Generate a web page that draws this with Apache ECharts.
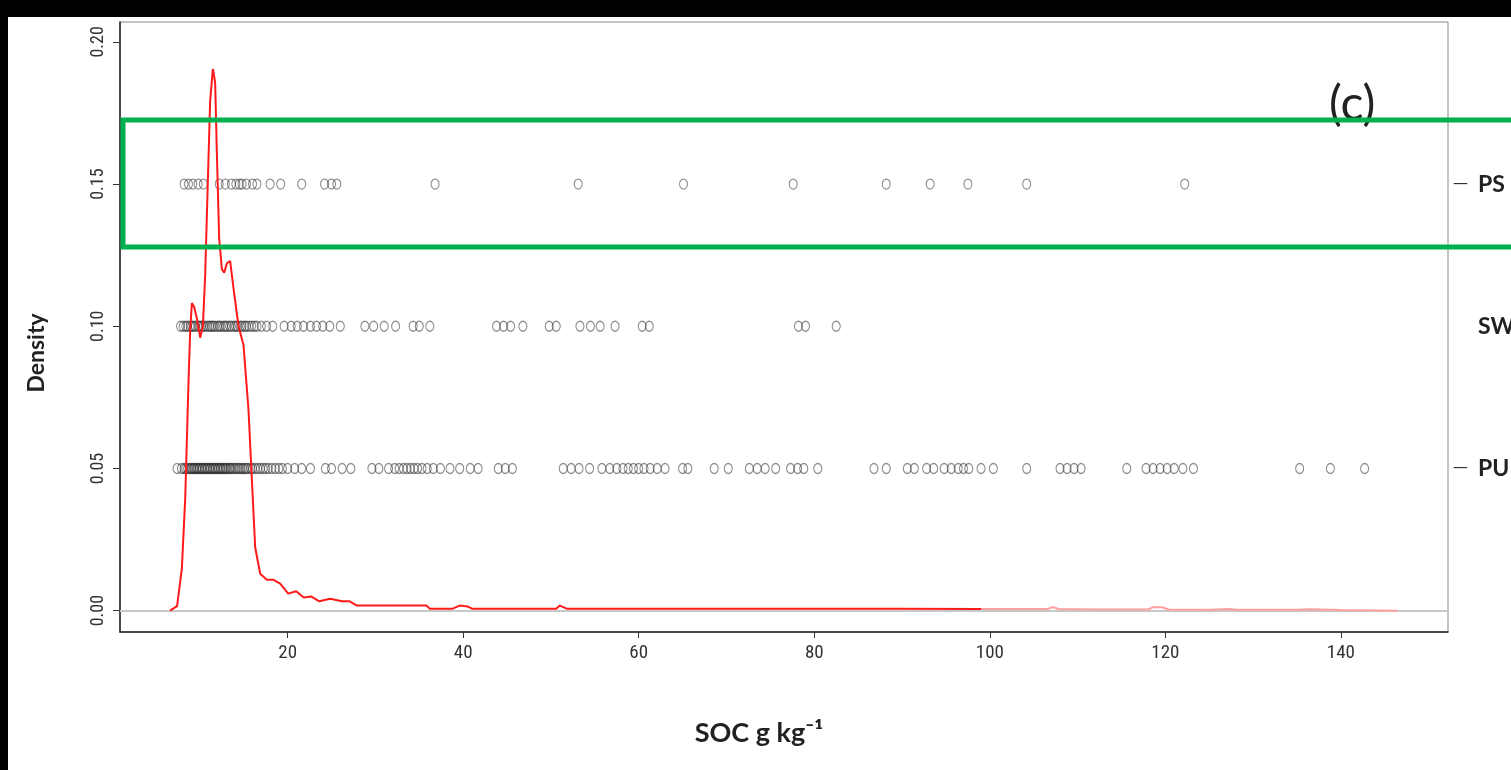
<!DOCTYPE html>
<html><head><meta charset="utf-8">
<script src="https://cdn.jsdelivr.net/npm/echarts@6/dist/echarts.min.js"></script>
<style>
html,body{margin:0;padding:0;background:#000;width:1511px;height:770px;overflow:hidden}
#page{position:absolute;left:8px;top:17px;width:1503px;height:753px;background:#fff}
#chart{position:absolute;left:0;top:0;width:1511px;height:770px}
</style></head><body>
<div id="page"></div><div id="chart"></div>
<script>
// Kernel density of SOC (x: g/kg, y: density)
const densX = [6.6, 7.4, 7.95, 8.33, 8.7, 8.9, 9.09, 9.35, 9.66, 10.04, 10.34, 10.6, 10.87, 11.17, 11.48, 11.74, 11.94, 12.2, 12.51, 12.77, 13.08, 13.45, 13.83, 14.4, 14.97, 15.54, 15.92, 16.3, 16.87, 17.63, 18.35, 19.15, 20.06, 20.97, 21.84, 22.68, 23.6, 24.84, 26.2, 27.06, 27.9, 35.8, 36.2, 38.8, 39.6, 40.5, 41.0, 50.6, 51.0, 51.8, 60, 70, 80, 90, 99, 106.6, 107.2, 107.8, 112, 118.0, 118.6, 119.6, 120.4, 125, 127.4, 128, 135, 136.5, 140, 146.5];
const densY = [0, 0.0016, 0.015, 0.0395, 0.0799, 0.0987, 0.1082, 0.1068, 0.1027, 0.0960, 0.1001, 0.1175, 0.1469, 0.1791, 0.1905, 0.1858, 0.1603, 0.1308, 0.1201, 0.1188, 0.1222, 0.1229, 0.1134, 0.1001, 0.0934, 0.0706, 0.0464, 0.0223, 0.0130, 0.0109, 0.0109, 0.0095, 0.0060, 0.0068, 0.0046, 0.0050, 0.0033, 0.0042, 0.0033, 0.0033, 0.0018, 0.0018, 0.0007, 0.0007, 0.0018, 0.0015, 0.0007, 0.0007, 0.0018, 0.0007, 0.0007, 0.0007, 0.0007, 0.0007, 0.0006, 0.0006, 0.0013, 0.0006, 0.0004, 0.0004, 0.0012, 0.0012, 0.0004, 0.0003, 0.0006, 0.0003, 0.0003, 0.0005, 0.0002, 0];
const paleFrom = 99; // the curve is drawn faint beyond this SOC value

// Observations per group (stripchart rows)
const psValues = [8.2, 8.7, 9.2, 9.8, 10.4, 12.2, 12.9, 13.6, 14.1, 14.5, 14.8, 15.3, 16.0, 16.5, 18.0, 19.2, 21.6, 24.2, 25.0, 25.6, 36.8, 53.1, 65.1, 77.6, 88.2, 93.2, 97.5, 104.2, 122.2];
const swValues = [7.8, 8.1, 8.4, 8.6, 8.9, 9.1, 9.3, 9.5, 9.8, 10.0, 10.2, 10.4, 10.6, 10.9, 11.1, 11.3, 11.5, 11.7, 12.0, 12.2, 12.4, 12.7, 12.9, 13.1, 13.4, 13.6, 13.9, 14.1, 14.3, 14.6, 14.8, 15.1, 15.3, 15.6, 15.9, 16.2, 16.5, 17.0, 17.6, 18.3, 19.6, 20.4, 21.1, 21.8, 22.6, 23.3, 24.0, 24.8, 26.0, 28.8, 29.8, 31.0, 32.3, 34.3, 35.0, 36.2, 43.8, 44.6, 45.4, 46.8, 49.8, 50.6, 53.3, 54.5, 55.6, 57.3, 60.4, 61.2, 78.2, 79.0, 82.5];
const puValues = [7.4, 7.9, 8.2, 8.4, 8.6, 8.8, 9.0, 9.1, 9.3, 9.4, 9.6, 9.7, 9.9, 10.0, 10.2, 10.3, 10.5, 10.6, 10.8, 10.9, 11.1, 11.2, 11.4, 11.5, 11.7, 11.8, 12.0, 12.1, 12.3, 12.4, 12.6, 12.7, 12.9, 13.0, 13.2, 13.4, 13.5, 13.7, 13.9, 14.1, 14.3, 14.5, 14.7, 14.9, 15.1, 15.3, 15.5, 15.8, 16.0, 16.3, 16.6, 16.9, 17.2, 17.5, 17.8, 18.2, 18.6, 19.0, 19.4, 20.0, 20.8, 21.6, 22.6, 24.3, 25.0, 26.2, 27.2, 29.6, 30.4, 31.5, 32.2, 32.7, 33.2, 33.6, 34.0, 34.4, 34.8, 35.3, 35.9, 36.6, 37.4, 38.5, 39.6, 40.8, 41.7, 44.0, 44.8, 45.6, 51.4, 52.3, 53.2, 54.4, 55.8, 56.7, 57.5, 58.2, 58.8, 59.4, 60.0, 60.6, 61.3, 62.1, 63.0, 65.0, 65.6, 68.6, 70.2, 72.6, 73.5, 74.4, 75.6, 77.3, 78.1, 78.8, 80.4, 86.8, 88.2, 90.6, 91.4, 92.8, 93.6, 94.8, 95.6, 96.4, 97.0, 97.6, 99.0, 100.4, 104.2, 108.0, 108.8, 109.6, 110.4, 115.6, 117.8, 118.6, 119.4, 120.2, 121.0, 122.0, 123.2, 135.3, 138.8, 142.7];

const rowNames = ['PU', 'SW', 'PS'];
const rowLevels = [0.05, 0.10, 0.15];
const xTicks = [20, 40, 60, 80, 100, 120, 140];
const yTicks = [0, 0.05, 0.10, 0.15, 0.20];
const xRange = [0.9, 152.2];
const yRange = [-0.0075, 0.207];
const boxRange = [0.1279, 0.1725];

const chart = echarts.init(document.getElementById('chart'), null, {renderer: 'canvas'});
const tickFont = "'Liberation Sans Narrow', 'Roboto Condensed', 'Liberation Sans', Arial, sans-serif";
const boldFont = "Lato, 'Open Sans', 'Noto Sans', sans-serif";

const densPairs = densX.map((x, i) => [x, densY[i]]);
const densMain = densPairs.filter(p => p[0] <= paleFrom);
const densTail = densPairs.filter(p => p[0] >= paleFrom);
const toRow = (vals, level) => vals.map(v => [v, level]);
const pointStyle = {color: 'rgba(0,0,0,0)', borderColor: 'rgba(20,20,20,0.6)', borderWidth: 1.2};

chart.setOption({
  backgroundColor: 'transparent',
  animation: false,
  title: {
    text: '(c)', left: 1324, top: 76,
    textStyle: {fontFamily: boldFont, fontSize: 48, fontWeight: 'normal', color: '#222'}
  },
  grid: {left: 120, right: 63, top: 22, bottom: 138, outerBoundsMode: 'none', containLabel: false,
    show: true, borderColor: '#8a8a8a', borderWidth: 1, backgroundColor: 'transparent'},
  xAxis: {
    type: 'value', min: xRange[0], max: xRange[1],
    name: 'SOC g kg\u207B\u00B9', nameLocation: 'middle', nameGap: 88,
    nameTextStyle: {fontFamily: boldFont, fontSize: 27, fontWeight: 'bold', color: '#222', padding: [0, 50, 0, 0]},
    axisLine: {show: true, onZero: false, lineStyle: {color: '#222', width: 1.5}},
    axisTick: {show: true, length: 6, customValues: xTicks, lineStyle: {color: '#333'}},
    axisLabel: {customValues: xTicks, margin: 12, fontFamily: tickFont, fontSize: 19, color: '#333'},
    splitLine: {show: false}
  },
  yAxis: [{
    type: 'value', min: yRange[0], max: yRange[1], position: 'left',
    name: 'Density', nameLocation: 'middle', nameGap: 72, nameRotate: 90,
    nameTextStyle: {fontFamily: boldFont, fontSize: 23, fontWeight: 'bold', color: '#222', padding: [0, 52, 0, 0]},
    axisLine: {show: true, onZero: false, lineStyle: {color: '#222', width: 1.5}},
    axisTick: {show: true, length: 7, customValues: yTicks, lineStyle: {color: '#333'}},
    axisLabel: {customValues: yTicks, rotate: 90, margin: 13, fontFamily: tickFont, fontSize: 18, color: '#333',
      formatter: v => v.toFixed(2)},
    splitLine: {show: false}
  }, {
    type: 'value', min: yRange[0], max: yRange[1], position: 'right',
    axisLine: {show: false}, axisTick: {show: false}, splitLine: {show: false},
    axisLabel: {
      customValues: rowLevels, margin: 5, hideOverlap: false,
      formatter: v => {
        const i = rowLevels.findIndex(l => Math.abs(l - v) < 1e-6);
        const name = i >= 0 ? rowNames[i] : '';
        return (name === 'SW' ? '{h|\u2014}' : '{d|\u2014}') + '{b|' + name + '}';
      },
      rich: {
        d: {fontFamily: "'DejaVu Sans', sans-serif", fontSize: 15, color: '#333', padding: [0, 10, 0, 0]},
        h: {fontFamily: "'DejaVu Sans', sans-serif", fontSize: 15, color: 'rgba(0,0,0,0)', padding: [0, 10, 0, 0]},
        b: {fontFamily: boldFont, fontSize: 23, fontWeight: 'bold', color: '#222'}
      }
    }
  }],
  series: [{
    name: 'density', type: 'line', data: densMain,
    showSymbol: false, symbol: 'none', smooth: false, z: 3,
    lineStyle: {width: 2, color: '#ff1a1a'},
    markLine: {
      silent: true, symbol: 'none', label: {show: false},
      lineStyle: {color: '#c8c8c8', width: 2, type: 'solid'},
      data: [{yAxis: 0}], z: 1
    }
  }, {
    name: 'density tail', type: 'line', data: densTail,
    showSymbol: false, symbol: 'none', smooth: false, z: 3,
    lineStyle: {width: 2, color: '#ffa0a0'}
  }, {
    name: 'PS', type: 'scatter', symbol: 'circle', symbolSize: [8, 10], data: toRow(psValues, rowLevels[2]), itemStyle: pointStyle, z: 2
  }, {
    name: 'SW', type: 'scatter', symbol: 'circle', symbolSize: [8, 10], data: toRow(swValues, rowLevels[1]), itemStyle: pointStyle, z: 2
  }, {
    name: 'PU', type: 'scatter', symbol: 'circle', symbolSize: [8, 10], data: toRow(puValues, rowLevels[0]), itemStyle: pointStyle, z: 2
  }]
});

// Green highlight box around the PS row (annotation)
const yTop = chart.convertToPixel({yAxisIndex: 0}, boxRange[1]);
const yBot = chart.convertToPixel({yAxisIndex: 0}, boxRange[0]);
const xLeft = chart.convertToPixel({xAxisIndex: 0}, xRange[0]) + 3;
chart.setOption({
  graphic: [{
    type: 'rect', z: 100, silent: true,
    shape: {x: xLeft, y: yTop, width: 1600, height: yBot - yTop},
    style: {fill: 'none', stroke: '#00b050', lineWidth: 5}
  }]
});
</script>
</body></html>
